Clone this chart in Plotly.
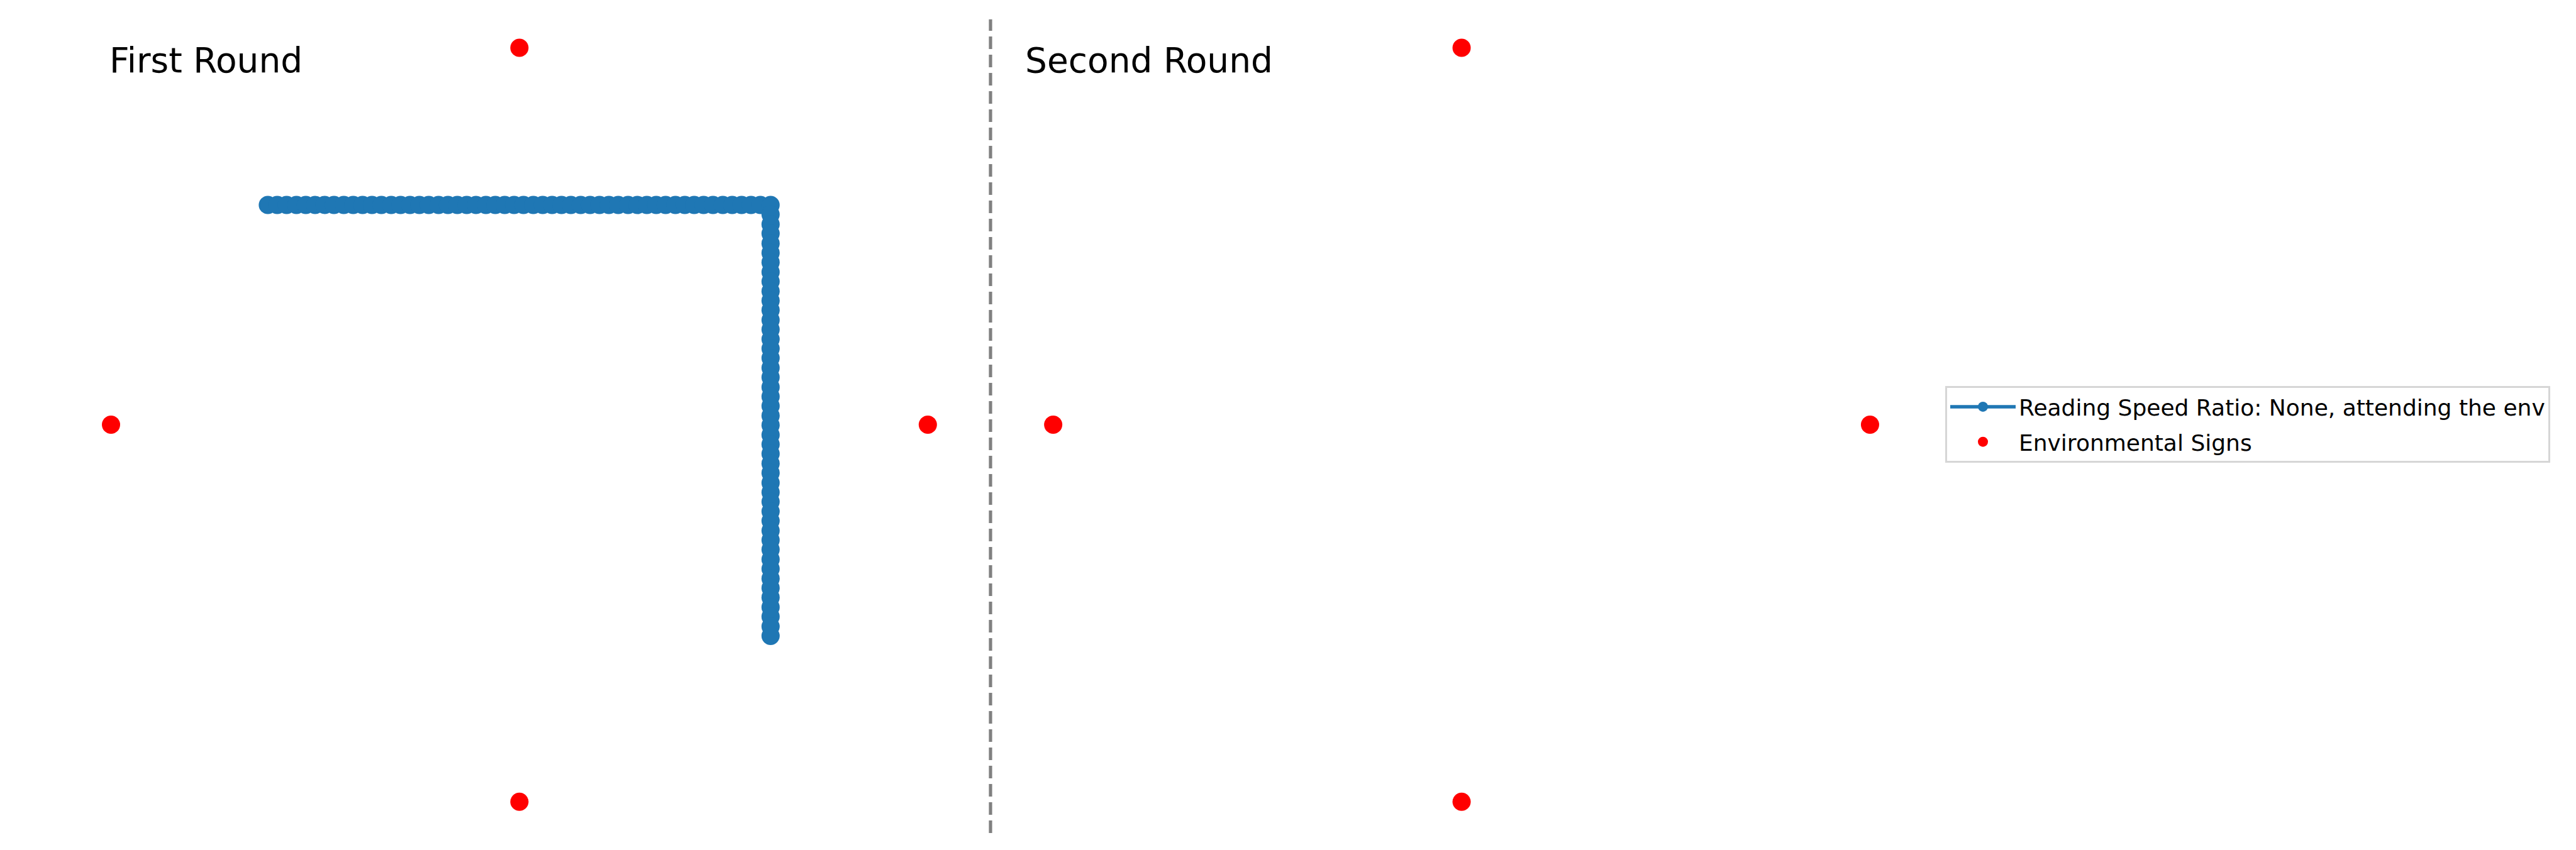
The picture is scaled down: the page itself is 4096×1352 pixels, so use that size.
import plotly.graph_objects as go

# ---- data (units: signs of each round sit at +/-100 around the round centre) ----
round_titles = ["First Round", "Second Round"]

sign_x = [0.0, -100.0, 100.0, 0.0, 230.7, 130.7, 330.7, 230.7]
sign_y = [100.0, 0.0, 0.0, -100.0, 100.0, 0.0, 0.0, -100.0]

# gaze path of the first round: horizontal run, then vertical run
h_x = [-61.6, -59.3, -57.0, -54.6, -52.3, -50.0, -47.7, -45.4, -43.0, -40.7,
       -38.4, -36.1, -33.8, -31.4, -29.1, -26.8, -24.5, -22.2, -19.8, -17.5,
       -15.2, -12.9, -10.6, -8.2, -5.9, -3.6, -1.3, 1.0, 3.4, 5.7,
       8.0, 10.3, 12.6, 15.0, 17.3, 19.6, 21.9, 24.2, 26.6, 28.9,
       31.2, 33.5, 35.8, 38.2, 40.5, 42.8, 45.1, 47.4, 49.8, 52.1,
       54.4, 56.7, 59.0, 61.5]
h_y = 58.3
v_x = 61.5
v_y = [55.8, 53.2, 50.7, 48.1, 45.6, 43.1, 40.5, 38.0, 35.4, 32.9,
       30.4, 27.8, 25.3, 22.7, 20.2, 17.7, 15.1, 12.6, 10.0, 7.5,
       5.0, 2.4, -0.1, -2.7, -5.2, -7.7, -10.3, -12.8, -15.4, -17.9,
       -20.4, -23.0, -25.5, -28.1, -30.6, -33.1, -35.7, -38.2, -40.8, -43.3,
       -45.8, -48.4, -50.9, -53.5, -56.0]

gaze_x = h_x + [v_x] * len(v_y)
gaze_y = [h_y] * len(h_x) + v_y

divider_x = 115.35

series_names = ["Reading Speed Ratio: None, attending the env", "Environmental Signs"]

# ---- figure ----
W, H = 4096, 1352
fig = go.Figure()

fig.add_trace(go.Scatter(
    x=gaze_x, y=gaze_y, mode="lines+markers", name=series_names[0],
    line=dict(color="#1f77b4", width=5.5),
    marker=dict(color="#1f77b4", size=29),
    legendgroup="a",
))
fig.add_trace(go.Scatter(
    x=sign_x, y=sign_y, mode="markers", name=series_names[1],
    marker=dict(color="#ff0000", size=29),
    legendgroup="b",
))

fig.add_shape(type="line", xref="x", yref="y",
              x0=divider_x, x1=divider_x, y0=-108.31, y1=107.57,
              line=dict(color="#808080", width=5.2, dash="20px,9px"))

title_x_px = [172, 1628]
for t, xp in zip(round_titles, title_x_px):
    fig.add_annotation(text=t, xref="paper", yref="paper",
                       x=xp / W, y=1 - 96 / H, xanchor="left", yanchor="middle",
                       showarrow=False,
                       font=dict(family="DejaVu Sans", size=55, color="black"))

fig.update_layout(
    width=W, height=H,
    margin=dict(l=0, r=0, t=0, b=0),
    paper_bgcolor="white", plot_bgcolor="white",
    xaxis=dict(range=[-127.18, 503.56], visible=False, showgrid=False, zeroline=False),
    yaxis=dict(range=[-112.81, 112.68], visible=False, showgrid=False, zeroline=False),
    showlegend=True,
    legend=dict(
        x=3093 / W, y=1 - 675 / H, xanchor="left", yanchor="middle",
        font=dict(family="DejaVu Sans", size=36, color="black"),
        bgcolor="rgba(255,255,255,0.8)", bordercolor="#d6d6d6", borderwidth=3,
        itemwidth=104, tracegroupgap=6,
    ),
)

fig.write_html("out.html",
               config={"displayModeBar": False},
               post_script="document.body.style.margin='0';document.body.style.overflow='hidden';")
